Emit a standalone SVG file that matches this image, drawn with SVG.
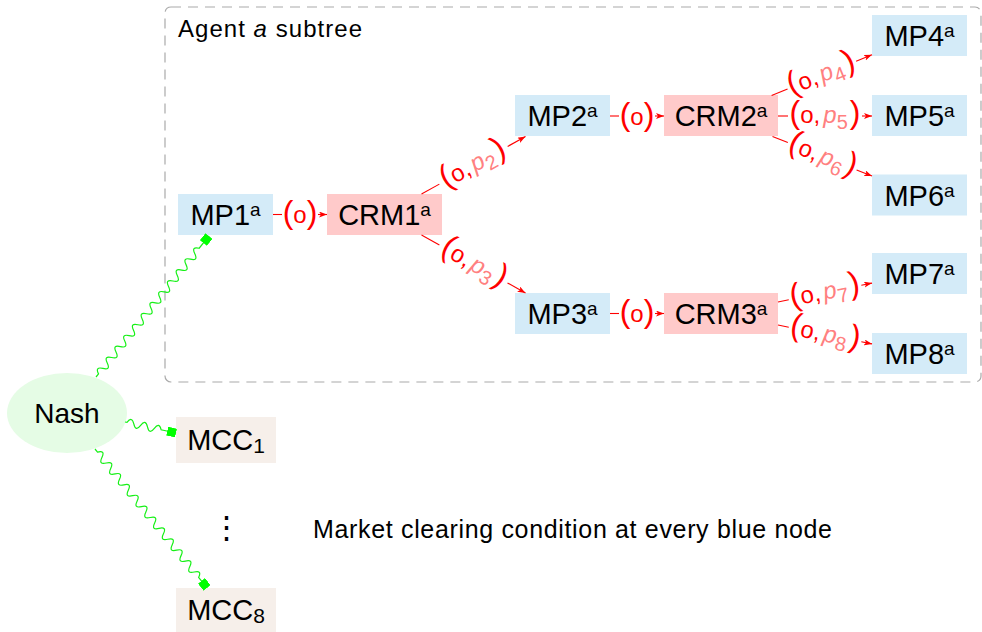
<svg xmlns="http://www.w3.org/2000/svg" width="982" height="632" viewBox="0 0 982 632">
<style>
text{font-family:"Liberation Sans",Arial,sans-serif;fill:#000}
.mp rect{fill:#d4ebf8}
.crm rect{fill:#ffcaca}
.mcc rect{fill:#f6efea}
.nd text{font-size:29px;text-anchor:middle}
.sup{font-size:19px}
.sub2{font-size:21px}
.ed line{stroke:#ff0000;stroke-width:1.1}
.el{text-anchor:middle}
.pa{font-size:32px;fill:#ff0000}
.o{font-size:24px;fill:#ff0000}
.p{font-size:24px;font-style:italic;fill:#ff8080}
.s{font-size:20px;fill:#ff8080}
.sn path{fill:none;stroke:#16f016;stroke-width:1.2}
</style>
<defs>
<marker id="ah" markerUnits="userSpaceOnUse" markerWidth="9" markerHeight="7" refX="8" refY="3" orient="auto" viewBox="0 0 9 7"><path d="M0,0 L8,3 L0,6 L2,3 z" fill="#ff0000"/></marker>
<marker id="sq" markerUnits="userSpaceOnUse" markerWidth="9" markerHeight="9" refX="9" refY="4.5" orient="auto" viewBox="0 0 9 9"><rect width="9" height="9" fill="#00ff00"/></marker>
</defs>

<g id="subtree-frame">
<rect x="165" y="7" width="816" height="375" rx="6" fill="none" stroke="#aaaaaa" stroke-width="1.2" stroke-dasharray="10,7"/>
<text x="178" y="37" font-size="24" textLength="184" lengthAdjust="spacing">Agent <tspan font-style="italic">a</tspan> subtree</text>
</g>

<g id="nash"><ellipse cx="67" cy="413" rx="60" ry="40" fill="#e5fce5"/><text x="67" y="423" font-size="28" text-anchor="middle">Nash</text></g>

<g id="MP1" class="nd mp"><rect x="178" y="194" width="95" height="41"/><text x="225.5" y="225">MP1<tspan class="sup" dy="-9">a</tspan></text></g>
<g id="CRM1" class="nd crm"><rect x="327" y="194" width="115" height="41"/><text x="384.5" y="225">CRM1<tspan class="sup" dy="-9">a</tspan></text></g>
<g id="MP2" class="nd mp"><rect x="515" y="95" width="95" height="41"/><text x="562.5" y="126">MP2<tspan class="sup" dy="-9">a</tspan></text></g>
<g id="CRM2" class="nd crm"><rect x="664" y="95" width="114" height="41"/><text x="721" y="126">CRM2<tspan class="sup" dy="-9">a</tspan></text></g>
<g id="MP3" class="nd mp"><rect x="515" y="293" width="95" height="41"/><text x="562.5" y="324">MP3<tspan class="sup" dy="-9">a</tspan></text></g>
<g id="CRM3" class="nd crm"><rect x="664" y="293" width="114" height="41"/><text x="721" y="324">CRM3<tspan class="sup" dy="-9">a</tspan></text></g>
<g id="MP4" class="nd mp"><rect x="872" y="15" width="95" height="41"/><text x="919.5" y="46">MP4<tspan class="sup" dy="-9">a</tspan></text></g>
<g id="MP5" class="nd mp"><rect x="872" y="95" width="95" height="41"/><text x="919.5" y="126">MP5<tspan class="sup" dy="-9">a</tspan></text></g>
<g id="MP6" class="nd mp"><rect x="872" y="174.5" width="95" height="41"/><text x="919.5" y="205.5">MP6<tspan class="sup" dy="-9">a</tspan></text></g>
<g id="MP7" class="nd mp"><rect x="872" y="253" width="95" height="41"/><text x="919.5" y="284">MP7<tspan class="sup" dy="-9">a</tspan></text></g>
<g id="MP8" class="nd mp"><rect x="872" y="333" width="95" height="41"/><text x="919.5" y="364">MP8<tspan class="sup" dy="-9">a</tspan></text></g>
<g id="MCC1" class="nd mcc"><rect x="176" y="417" width="100" height="46"/><text x="226" y="450">MCC<tspan class="sub2" dy="3">1</tspan></text></g>
<g id="MCC8" class="nd mcc"><rect x="176" y="588" width="100" height="46"/><text x="226" y="620">MCC<tspan class="sub2" dy="3">8</tspan></text></g>

<g id="vdots"><text x="226" y="538" font-family="DejaVu Sans" font-weight="200" font-size="31" text-anchor="middle">⋮</text></g>
<g id="note"><text x="313" y="538" font-size="25" textLength="519" lengthAdjust="spacing">Market clearing condition at every blue node</text></g>

<g id="connectors">
<g class="ed">
<g transform="translate(273,214.5)"><line x1="0" x2="9"/><line x1="45" x2="54" marker-end="url(#ah)"/><text class="el" x="27" y="8.5"><tspan class="pa">(</tspan><tspan class="o">o</tspan><tspan class="pa">)</tspan></text></g>
<g transform="translate(610,116)"><line x1="0" x2="9"/><line x1="45" x2="54" marker-end="url(#ah)"/><text class="el" x="27" y="8.5"><tspan class="pa">(</tspan><tspan class="o">o</tspan><tspan class="pa">)</tspan></text></g>
<g transform="translate(610,313.5)"><line x1="0" x2="9"/><line x1="45" x2="54" marker-end="url(#ah)"/><text class="el" x="27" y="8.5"><tspan class="pa">(</tspan><tspan class="o">o</tspan><tspan class="pa">)</tspan></text></g>

<g transform="translate(421.5,194) rotate(-28.9)"><line x1="0" x2="20.4"/><line x1="98.4" x2="118.8" marker-end="url(#ah)"/><text class="el" x="59.4" y="7"><tspan class="pa">(</tspan><tspan class="o">o,</tspan><tspan class="p" dx="3">p</tspan><tspan class="s" dy="6">2</tspan><tspan class="pa" dy="-6" dx="2">)</tspan></text></g>
<g transform="translate(421.5,235) rotate(29.15)"><line x1="0" x2="20.5"/><line x1="98.5" x2="119.1" marker-end="url(#ah)"/><text class="el" x="59.55" y="7"><tspan class="pa">(</tspan><tspan class="o">o,</tspan><tspan class="p" dx="3">p</tspan><tspan class="s" dy="6">3</tspan><tspan class="pa" dy="-6" dx="2">)</tspan></text></g>
<g transform="translate(771.6,95.5) rotate(-22.07)"><line x1="0" x2="17.2"/><line x1="91.2" x2="108.3" marker-end="url(#ah)"/><text class="el" x="54.15" y="7"><tspan class="pa">(</tspan><tspan class="o">o,</tspan><tspan class="p" dx="3">p</tspan><tspan class="s" dy="6">4</tspan><tspan class="pa" dy="-6" dx="2">)</tspan></text></g>
<g transform="translate(778,116)"><line x1="0" x2="10"/><line x1="84" x2="94" marker-end="url(#ah)"/><text class="el" x="47" y="7"><tspan class="pa">(</tspan><tspan class="o">o,</tspan><tspan class="p" dx="3">p</tspan><tspan class="s" dy="6">5</tspan><tspan class="pa" dy="-6" dx="2">)</tspan></text></g>
<g transform="translate(772.5,136.5) rotate(21.7)"><line x1="0" x2="16.5"/><line x1="90.5" x2="107.1" marker-end="url(#ah)"/><text class="el" x="53.55" y="7"><tspan class="pa">(</tspan><tspan class="o">o,</tspan><tspan class="p" dx="3">p</tspan><tspan class="s" dy="6">6</tspan><tspan class="pa" dy="-6" dx="2">)</tspan></text></g>
<g transform="translate(778,302) rotate(-11.37)"><line x1="0" x2="11"/><line x1="85" x2="95.9" marker-end="url(#ah)"/><text class="el" x="47.95" y="7"><tspan class="pa">(</tspan><tspan class="o">o,</tspan><tspan class="p" dx="3">p</tspan><tspan class="s" dy="6">7</tspan><tspan class="pa" dy="-6" dx="2">)</tspan></text></g>
<g transform="translate(778,325) rotate(11.37)"><line x1="0" x2="11"/><line x1="85" x2="95.9" marker-end="url(#ah)"/><text class="el" x="47.95" y="7"><tspan class="pa">(</tspan><tspan class="o">o,</tspan><tspan class="p" dx="3">p</tspan><tspan class="s" dy="6">8</tspan><tspan class="pa" dy="-6" dx="2">)</tspan></text></g>
</g>
<g class="sn">
<path transform="translate(96,377) rotate(-51.3)" marker-end="url(#sq)" d="M0,0 L4,0 q3.5,-7.5 7,0 t7,0 t7,0 t7,0 t7,0 t7,0 t7,0 t7,0 t7,0 t7,0 t7,0 t7,0 t7,0 t7,0 t7,0 t7,0 t7,0 t7,0 t7,0 t7,0 t7,0 t7,0 t7,0 L180.7,0"/>
<path transform="translate(125,422) rotate(12.2)" marker-end="url(#sq)" d="M0,0 L2,0 q3.5,-7.5 7,0 t7,0 t7,0 t7,0 t7,0 L52.2,0"/>
<path transform="translate(95,449) rotate(51.1)" marker-end="url(#sq)" d="M0,0 L4,0 q3.5,-7.5 7,0 t7,0 t7,0 t7,0 t7,0 t7,0 t7,0 t7,0 t7,0 t7,0 t7,0 t7,0 t7,0 t7,0 t7,0 t7,0 t7,0 t7,0 t7,0 t7,0 t7,0 t7,0 t7,0 L178.5,0"/>
</g>
</g>
</svg>
